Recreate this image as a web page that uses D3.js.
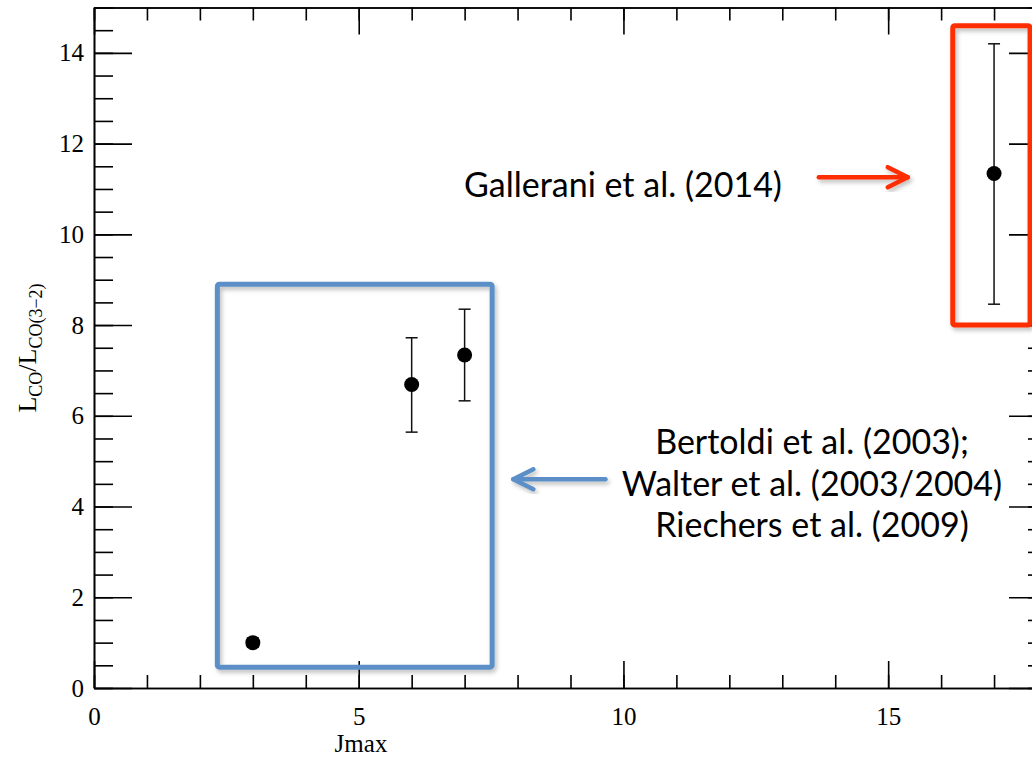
<!DOCTYPE html>
<html>
<head>
<meta charset="utf-8">
<script src="https://cdn.jsdelivr.net/npm/d3@7"></script>
<style>
body { margin: 0; background: #fff; }
svg { display: block; }
.axis text { font-family: "Liberation Serif", serif; font-size: 25px; fill: #000; }
.axis line, .axis path { stroke: #000; stroke-width: 1.6; }
.note { font-family: Lato, "Open Sans", sans-serif; font-size: 34px; fill: #000; }
</style>
</head>
<body>
<svg id="chart" width="1032" height="759"></svg>
<script>
// measured points
var jmax = [3, 6, 7, 17];
var ratio = [1.0, 6.69, 7.34, 11.34];
var errLo = [0.9, 5.64, 6.33, 8.46];
var errHi = [1.1, 7.72, 8.35, 14.2];

var xMajor = [0, 5, 10, 15];
var yMajor = [0, 2, 4, 6, 8, 10, 12, 14];

// annotation boxes in data units
var boxNames = ["blue", "red"];
var boxX0 = [2.33, 16.22];
var boxX1 = [7.52, 17.68];
var boxY0 = [0.46, 8.0];
var boxY1 = [8.9, 14.6];
var boxColor = ["#5b8fc8", "#ff2d00"];

// arrows (from -> to), data units
var arrowX0 = [9.66, 13.69];
var arrowX1 = [7.92, 15.37];
var arrowY = [4.6, 11.26];

var svg = d3.select("#chart");

var x = d3.scaleLinear().domain([0, 18]).range([94, 1047]);
var y = d3.scaleLinear().domain([0, 15]).range([688, 7.5]);

var defs = svg.append("defs");
var f = defs.append("filter").attr("id", "shadow").attr("x", "-10%").attr("y", "-10%").attr("width", "130%").attr("height", "130%");
f.append("feDropShadow").attr("dx", 2).attr("dy", 3).attr("stdDeviation", 2).attr("flood-color", "#000").attr("flood-opacity", 0.25);

// axes
var d = d3.range(0, 19);
var dy = d3.range(0, 15.01, 0.5);

svg.append("g").attr("class", "axis")
.attr("transform", "translate(0," + y(0) + ")")
.call(d3.axisBottom(x).tickValues(d).tickSizeInner(-13).tickSizeOuter(0).tickFormat(""));
svg.append("g").attr("class", "axis")
.attr("transform", "translate(0," + y(0) + ")")
.call(d3.axisBottom(x).tickValues(xMajor).tickSizeInner(-27).tickSizeOuter(0).tickPadding(19).tickFormat(d3.format("d")));
svg.append("g").attr("class", "axis")
.attr("transform", "translate(0," + y(15) + ")")
.call(d3.axisTop(x).tickValues(d).tickSizeInner(-13).tickSizeOuter(0).tickFormat(""));
svg.append("g").attr("class", "axis")
.attr("transform", "translate(0," + y(15) + ")")
.call(d3.axisTop(x).tickValues(xMajor).tickSizeInner(-27).tickSizeOuter(0).tickFormat(""));

svg.append("g").attr("class", "axis")
.attr("transform", "translate(" + x(0) + ",0)")
.call(d3.axisLeft(y).tickValues(dy).tickSizeInner(-19).tickSizeOuter(0).tickFormat(""));
svg.append("g").attr("class", "axis")
.attr("transform", "translate(" + x(0) + ",0)")
.call(d3.axisLeft(y).tickValues(yMajor).tickSizeInner(-38).tickSizeOuter(0).tickPadding(10).tickFormat(d3.format("d")));
svg.append("g").attr("class", "axis")
.attr("transform", "translate(" + x(18) + ",0)")
.call(d3.axisRight(y).tickValues(dy).tickSizeInner(-19).tickSizeOuter(0).tickFormat(""));
svg.append("g").attr("class", "axis")
.attr("transform", "translate(" + x(18) + ",0)")
.call(d3.axisRight(y).tickValues(yMajor).tickSizeInner(-38).tickSizeOuter(0).tickFormat(""));

// axis titles
svg.append("text")
.attr("x", 361).attr("y", 752)
.attr("text-anchor", "middle")
.style("font-family", "Liberation Serif, serif").style("font-size", "25px")
.text("Jmax");

var yl = svg.append("text")
.attr("transform", "translate(36,348) rotate(-90)")
.attr("text-anchor", "middle")
.style("font-family", "Liberation Serif, serif").style("font-size", "26px");
yl.append("tspan").text("L");
yl.append("tspan").attr("dy", 6).style("font-size", "18px").text("CO");
yl.append("tspan").attr("dy", -6).text("/L");
yl.append("tspan").attr("dy", 6).style("font-size", "18px").text("CO(3\u22122)");

// boxes
svg.selectAll("rect.box")
.data(boxNames)
.enter()
.append("rect")
.attr("class", "box")
.attr("x", function (d, i) { return x(boxX0[i]) })
.attr("y", function (d, i) { return y(boxY1[i]) })
.attr("width", function (d, i) { return x(boxX1[i]) - x(boxX0[i]) })
.attr("height", function (d, i) { return y(boxY0[i]) - y(boxY1[i]) })
.attr("rx", 2)
.style("fill", "none")
.style("stroke", function (d, i) { return boxColor[i] })
.style("stroke-width", 5)
.attr("filter", "url(#shadow)");

// arrows
var ag = svg.selectAll("g.arrow")
.data(boxNames)
.enter()
.append("g")
.attr("class", "arrow")
.attr("filter", "url(#shadow)")
.style("stroke", function (d, i) { return boxColor[i] })
.style("stroke-width", 4.5)
.style("fill", "none")
.style("stroke-linecap", "round")
.style("stroke-linejoin", "round");
ag.append("line")
.attr("x1", function (d, i) { return x(arrowX0[i]) })
.attr("x2", function (d, i) { return x(arrowX1[i]) })
.attr("y1", function (d, i) { return y(arrowY[i]) })
.attr("y2", function (d, i) { return y(arrowY[i]) });
ag.append("path")
.attr("d", function (d, i) {
  var tx = x(arrowX1[i]), ty = y(arrowY[i]);
  var s = arrowX1[i] > arrowX0[i] ? -1 : 1;
  return "M" + (tx + s * 20) + "," + (ty - 10) + "L" + tx + "," + ty + "L" + (tx + s * 20) + "," + (ty + 10);
});

// error bars
var pts = svg.append("g");
pts.selectAll("line.err")
.data(jmax)
.enter()
.append("line")
.attr("x1", function (d) { return x(d) })
.attr("x2", function (d) { return x(d) })
.attr("y1", function (d, i) { return y(errLo[i]) })
.attr("y2", function (d, i) { return y(errHi[i]) })
.style("stroke", "#111").style("stroke-width", 1.5);
pts.selectAll("line.capLo")
.data(jmax)
.enter()
.append("line")
.attr("x1", function (d) { return x(d) - 6 })
.attr("x2", function (d) { return x(d) + 6 })
.attr("y1", function (d, i) { return y(errLo[i]) })
.attr("y2", function (d, i) { return y(errLo[i]) })
.style("stroke", "#111").style("stroke-width", 1.5);
pts.selectAll("line.capHi")
.data(jmax)
.enter()
.append("line")
.attr("x1", function (d) { return x(d) - 6 })
.attr("x2", function (d) { return x(d) + 6 })
.attr("y1", function (d, i) { return y(errHi[i]) })
.attr("y2", function (d, i) { return y(errHi[i]) })
.style("stroke", "#111").style("stroke-width", 1.5);
pts.selectAll("circle")
.data(jmax)
.enter()
.append("circle")
.attr("cx", function (d) { return x(d) })
.attr("cy", function (d, i) { return y(ratio[i]) })
.attr("r", 7.5)
.style("fill", "#000");

// notes
svg.append("text").attr("class", "note")
.attr("x", 623).attr("y", 197)
.attr("text-anchor", "middle")
.text("Gallerani et al. (2014)");

var refs = ["Bertoldi et al. (2003);", "Walter et al. (2003/2004)", "Riechers et al. (2009)"];
svg.selectAll("text.refs")
.data(refs)
.enter()
.append("text")
.attr("class", "note")
.attr("x", 812)
.attr("y", function (d, i) { return 454 + i * 41.5 })
.attr("text-anchor", "middle")
.text(function (d) { return d });
</script>
</body>
</html>
